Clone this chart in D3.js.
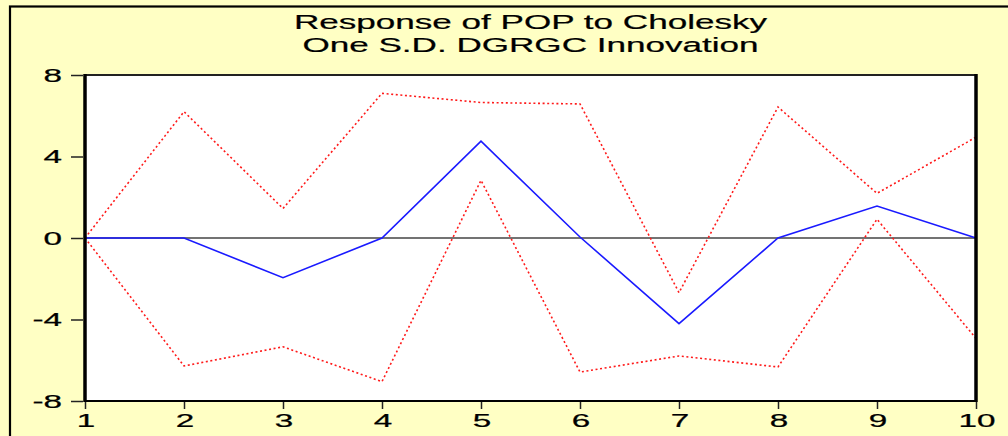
<!DOCTYPE html>
<html>
<head>
<meta charset="utf-8">
<script src="https://cdn.jsdelivr.net/npm/d3@7"></script>
<style>
  html, body { margin: 0; padding: 0; background: #ffffc4; }
  svg { display: block; }
</style>
</head>
<body>
<svg id="chart" width="1008" height="436"></svg>
<script>
// Impulse response of POP to a one S.D. DGRGC shock, with +/- 2 S.E. bands
const periods = [1, 2, 3, 4, 5, 6, 7, 8, 9, 10];
const response = [0, 0, -1.95, 0, 4.75, 0.05, -4.2, 0, 1.57, 0];
const upperBand = [0, 6.2, 1.45, 7.1, 6.65, 6.58, -2.68, 6.43, 2.19, 4.95];
const lowerBand = [0, -6.28, -5.34, -7.05, 2.83, -6.58, -5.79, -6.33, 0.92, -4.93];
const yTicks = [-8, -4, 0, 4, 8];
const titleLines = ["Response of POP to Cholesky", "One S.D. DGRGC Innovation"];

const svg = d3.select("#chart");
const W = 1008, H = 436;
const plot = { left: 85, right: 976, top: 75, bottom: 401 };
const font = "'Liberation Sans', Arial, sans-serif";
const stretch = 1.8; // wide, horizontally stretched lettering

// page background and outer frame
svg.append("rect").attr("x", 0).attr("y", 0).attr("width", W).attr("height", H)
  .attr("fill", "#ffffc4");
svg.append("rect").attr("x", 10).attr("y", 6.5).attr("width", W + 20).attr("height", H + 20)
  .attr("fill", "none").attr("stroke", "#000").attr("stroke-width", 2.2);

const x = d3.scaleLinear().domain([1, 10]).range([plot.left, plot.right]);
const y = d3.scaleLinear().domain([-8, 8]).range([plot.bottom, plot.top]);

// white plot panel
svg.append("rect")
  .attr("x", plot.left).attr("y", plot.top)
  .attr("width", plot.right - plot.left).attr("height", plot.bottom - plot.top)
  .attr("fill", "#fff");

// title, two centred lines
const cx = (plot.left + plot.right) / 2;
titleLines.forEach((t, i) => {
  svg.append("text")
    .attr("transform", `translate(${cx},${29 + i * 22.5}) scale(${stretch},1)`)
    .attr("text-anchor", "middle")
    .attr("font-family", font)
    .attr("font-size", 19.5)
    .attr("fill", "#000")
    .attr("stroke", "#000").attr("stroke-width", 0.2)
    .text(t);
});

// zero reference line
svg.append("line")
  .attr("x1", plot.left).attr("x2", plot.right)
  .attr("y1", y(0)).attr("y2", y(0))
  .attr("stroke", "#444").attr("stroke-width", 1.3);

const line = d3.line().x((d, i) => x(periods[i])).y(d => y(d));

// confidence bands (dotted red)
[upperBand, lowerBand].forEach(band => {
  svg.append("path")
    .datum(band)
    .attr("d", line)
    .attr("fill", "none")
    .attr("stroke", "#ff1a1a")
    .attr("stroke-width", 1.6)
    .attr("stroke-dasharray", "2,2.6");
});

// response (solid blue)
svg.append("path")
  .datum(response)
  .attr("d", line)
  .attr("fill", "none")
  .attr("stroke", "#1a1aff")
  .attr("stroke-width", 1.6);

// plot frame
svg.append("line").attr("x1", plot.left).attr("x2", plot.right).attr("y1", plot.top).attr("y2", plot.top)
  .attr("stroke", "#222").attr("stroke-width", 2);
svg.append("line").attr("x1", plot.left).attr("x2", plot.right).attr("y1", plot.bottom).attr("y2", plot.bottom)
  .attr("stroke", "#000").attr("stroke-width", 2);
svg.append("line").attr("x1", plot.left).attr("x2", plot.left).attr("y1", plot.top - 1).attr("y2", plot.bottom + 1)
  .attr("stroke", "#000").attr("stroke-width", 3.5);
svg.append("line").attr("x1", plot.right).attr("x2", plot.right).attr("y1", plot.top - 1).attr("y2", plot.bottom + 1)
  .attr("stroke", "#000").attr("stroke-width", 3.5);

// axes: tick marks from d3 axes, labels drawn stretched like the title
const yAxis = svg.append("g")
  .attr("transform", `translate(${plot.left - 2},0)`)
  .call(d3.axisLeft(y).tickValues(yTicks).tickSize(12).tickFormat(""));
const xAxis = svg.append("g")
  .attr("transform", `translate(0,${plot.bottom + 1})`)
  .call(d3.axisBottom(x).tickValues(periods).tickSize(7).tickFormat(""));

[yAxis, xAxis].forEach(g => {
  g.select(".domain").remove();
  g.selectAll(".tick line").attr("stroke", "#222").attr("stroke-width", 1.5);
});

function label(sel, anchor) {
  return sel.attr("text-anchor", anchor)
    .attr("font-family", font)
    .attr("font-size", 19)
    .attr("fill", "#000")
    .attr("stroke", "#000").attr("stroke-width", 0.25);
}

label(svg.append("g").selectAll("text").data(yTicks).join("text"), "end")
  .attr("transform", d => `translate(62,${y(d) + 6.5}) scale(1.75,1)`)
  .text(d => d < 0 ? "-" + Math.abs(d) : d);

label(svg.append("g").selectAll("text").data(periods).join("text"), "middle")
  .attr("transform", d => `translate(${x(d) + 1},427) scale(1.75,1)`)
  .text(d => d);
</script>
</body>
</html>
